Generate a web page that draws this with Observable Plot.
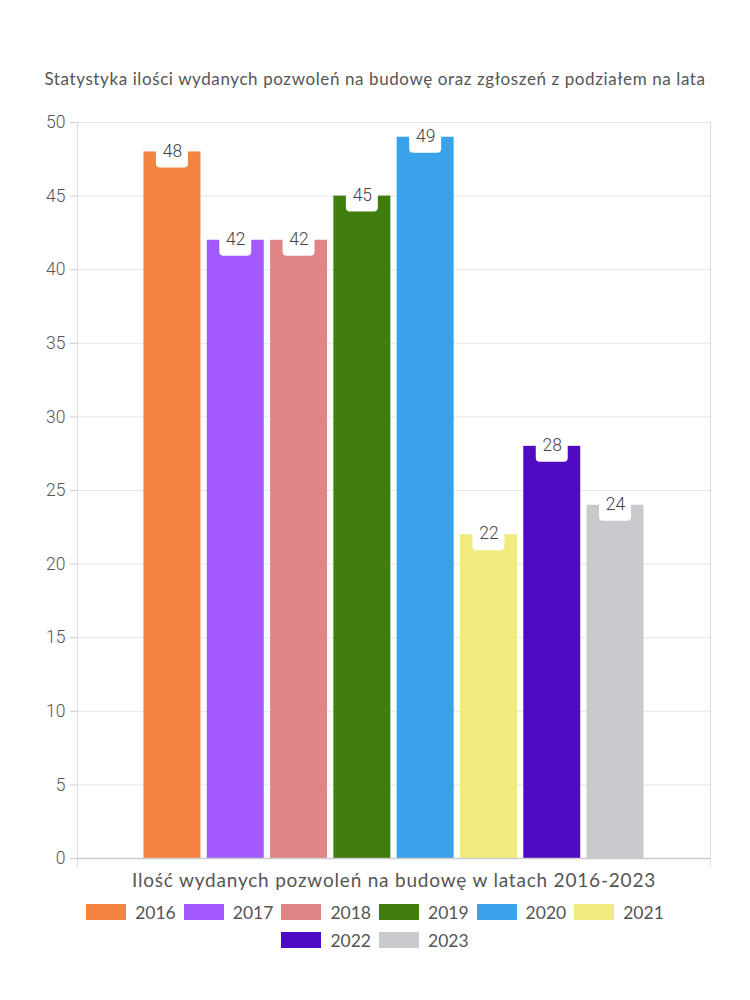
<!DOCTYPE html>
<html>
<head>
<meta charset="utf-8">
<script src="https://cdn.jsdelivr.net/npm/d3@7"></script>
<script src="https://cdn.jsdelivr.net/npm/@observablehq/plot@0.6"></script>
<style>
  body { margin: 0; background: #fff; font-family: Lato, "Noto Sans", sans-serif; }
  #title { height: 100px; box-sizing: border-box; padding-top: 68px; text-align: center; font-size: 17px; color: #555; letter-spacing: 0.6px; white-space: nowrap; }
  #legend { display: flex; flex-wrap: wrap; justify-content: center; width: 620px; margin: 4px auto 0; row-gap: 8px; }
  .item { display: flex; align-items: center; height: 20px; margin: 0 4px; font-size: 17.5px; color: #555; }
  .sw { width: 40px; height: 16px; margin-right: 9px; }
  .lb { min-width: 37px; }
  .xlab text { letter-spacing: 0.8px; }
</style>
</head>
<body>
<div id="title">Statystyka ilości wydanych pozwoleń na budowę oraz zgłoszeń z podziałem na lata</div>
<div id="chart"></div>
<div id="legend"></div>
<script>
const years = ["2016", "2017", "2018", "2019", "2020", "2021", "2022", "2023"];
const values = [48, 42, 42, 45, 49, 22, 28, 24];
const colors = ["#f58442", "#a259fe", "#e08585", "#3f7d0d", "#38a3eb", "#f0eb7e", "#500bc2", "#c9cacd"];
const yTicks = [0, 5, 10, 15, 20, 25, 30, 35, 40, 45, 50];
const title = "Statystyka ilości wydanych pozwoleń na budowę oraz zgłoszeń z podziałem na lata";
const xLabel = "Ilość wydanych pozwoleń na budowę w latach 2016-2023";

const data = years.map((y, i) => ({year: y, value: values[i]}));

const chart = Plot.plot({
  width: 750,
  height: 798,
  marginTop: 22,
  marginBottom: 40,
  marginLeft: 77,
  marginRight: 40,
  style: {fontFamily: "Roboto, 'Liberation Sans', sans-serif", background: "#fff"},
  x: {domain: years, paddingInner: 0.1, paddingOuter: 1.05, round: false, axis: null},
  y: {domain: [0, 50], ticks: yTicks, label: null},
  color: {domain: years, range: colors},
  marks: [
    Plot.gridY(yTicks.slice(1), {stroke: "#e6e6e6", strokeOpacity: 1}),
    Plot.frame({anchor: "left", stroke: "#dcdcdc", insetBottom: -8}),
    Plot.frame({anchor: "right", stroke: "#dcdcdc", insetBottom: -8}),
    Plot.axisY({ticks: yTicks, tickSize: 7, tickPadding: 5, fontSize: 17.5, fontWeight: 300, color: "#555", stroke: "#ccc", label: null}),
    Plot.barY(data, {x: "year", y: "value", fill: "year"}),
    Plot.ruleY([0], {stroke: "#ccc", strokeWidth: 1.5}),
    Plot.rect(data, {x: "year", y1: "value", y2: "value", fill: "white", rx: 4, insetLeft: 12.5, insetRight: 12.5, insetTop: -12, insetBottom: -16}),
    Plot.text(data, {x: "year", y: "value", text: d => String(d.value), fontSize: 17.5, fontWeight: 300, fill: "#444", dy: -1}),
    Plot.text([xLabel], {frameAnchor: "bottom", dy: 28, text: d => d, fontSize: 19, fill: "#555", fontFamily: "Lato, 'Noto Sans', sans-serif", className: "xlab"})
  ]
});
document.getElementById("chart").appendChild(chart);

const legend = document.getElementById("legend");
years.forEach((y, i) => {
  const it = document.createElement("div");
  it.className = "item";
  const sw = document.createElement("span");
  sw.className = "sw";
  sw.style.background = colors[i];
  const lb = document.createElement("span");
  lb.className = "lb";
  lb.textContent = y;
  it.appendChild(sw);
  it.appendChild(lb);
  legend.appendChild(it);
});
</script>
</body>
</html>
